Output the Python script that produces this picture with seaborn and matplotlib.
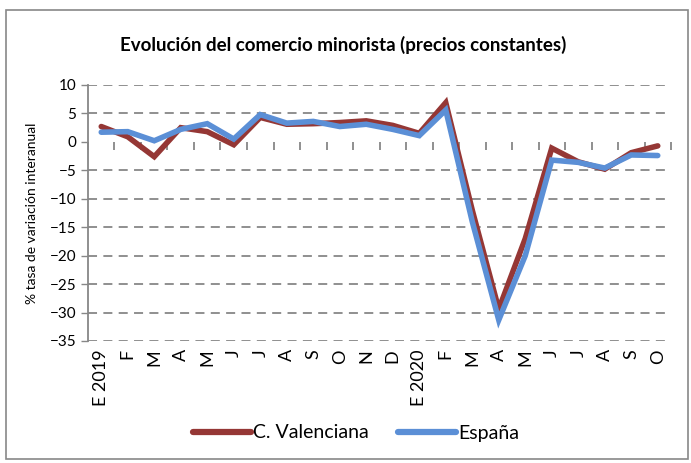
import matplotlib
matplotlib.use("Agg")
import matplotlib.pyplot as plt
import seaborn as sns
import pandas as pd
import numpy as np
from matplotlib.patches import Rectangle

months = ["E 2019", "F", "M", "A", "M", "J", "J", "A", "S", "O", "N", "D",
          "E 2020", "F", "M", "A", "M", "J", "J", "A", "S", "O"]
valenciana = [2.7, 0.9, -2.6, 2.5, 1.8, -0.5, 4.3, 3.1, 3.2, 3.4, 3.7, 2.9,
              1.5, 6.9, -12.0, -29.4, -17.0, -1.1, -3.5, -4.8, -1.9, -0.7]
espana = [1.7, 1.8, 0.2, 2.2, 3.2, 0.5, 4.8, 3.3, 3.6, 2.7, 3.1, 2.2,
          1.1, 5.6, -14.0, -31.3, -20.0, -3.2, -3.6, -4.6, -2.3, -2.4]
series_names = ["C. Valenciana", "España"]
colors = ["#953735", "#5B8FD6"]
title = "Evolución del comercio minorista (precios constantes)"
ylabel = "% tasa de variación interanual"

df = pd.DataFrame({
    "x": list(range(len(months))) * 2,
    "value": valenciana + espana,
    "serie": [series_names[0]] * len(months) + [series_names[1]] * len(months),
})

plt.rcParams["font.family"] = ["Lato", "DejaVu Sans"]
fig = plt.figure(figsize=(6.91, 4.63), dpi=100)
ax = fig.add_axes([88/691, 1-341/463, (671-88)/691, (341-85)/463])

grey = "#878787"
for yv in range(-35, 15, 5):
    if yv != 0:
        ax.axhline(yv, color=grey, lw=1.3, ls=(0, (5, 3.5)), zorder=0)

sns.lineplot(data=df, x="x", y="value", hue="serie", palette=colors,
             hue_order=series_names, lw=4, ax=ax, legend=True,
             solid_capstyle="round", solid_joinstyle="miter")

ax.set_xlim(-0.5, len(months) - 0.5)
ax.set_ylim(-35, 10)
ax.set_yticks(range(-35, 15, 5))
ax.set_xticks(range(len(months)))
ax.set_xticklabels(months, rotation=90, fontsize=13)
ax.tick_params(axis="x", length=0, pad=6)
ax.tick_params(axis="y", length=5, color=grey, labelsize=11, width=1)
for s in ["top", "right", "bottom"]:
    ax.spines[s].set_visible(False)
ax.spines["left"].set_color(grey)
ax.spines["left"].set_linewidth(1.3)
ax.set_xlabel("")
ax.set_ylabel(ylabel, fontsize=10, labelpad=8)

sec = ax.secondary_xaxis(35/45)
sec.set_xticks(np.arange(-0.5, len(months), 1.0))
sec.tick_params(axis="x", direction="out", length=6, color=grey, width=1.3,
                labelbottom=False, labeltop=False, bottom=True, top=False)
sec.spines["bottom"].set_color(grey)
sec.spines["bottom"].set_linewidth(1.3)
sec.spines["top"].set_visible(False)
sec.xaxis.set_ticks_position("bottom")
sec.set_xticklabels([])

leg = ax.legend(loc="center", bbox_to_anchor=(356/691, 1-433/463),
                bbox_transform=fig.transFigure, ncol=2, frameon=False,
                fontsize=14, handlelength=3.0, handletextpad=0.1,
                columnspacing=1.5)
for h in leg.get_lines():
    h.set_linewidth(4.5)

fig.text(343/691, 1-45/463, title, ha="center", va="center",
         fontsize=13.5, fontweight="bold")

fig.patches.append(Rectangle((6/691, 1-459/463), 682/691, 449/463,
                             transform=fig.transFigure, fill=False,
                             edgecolor="#888888", lw=1.2))

fig.savefig("out.png", dpi=100)
